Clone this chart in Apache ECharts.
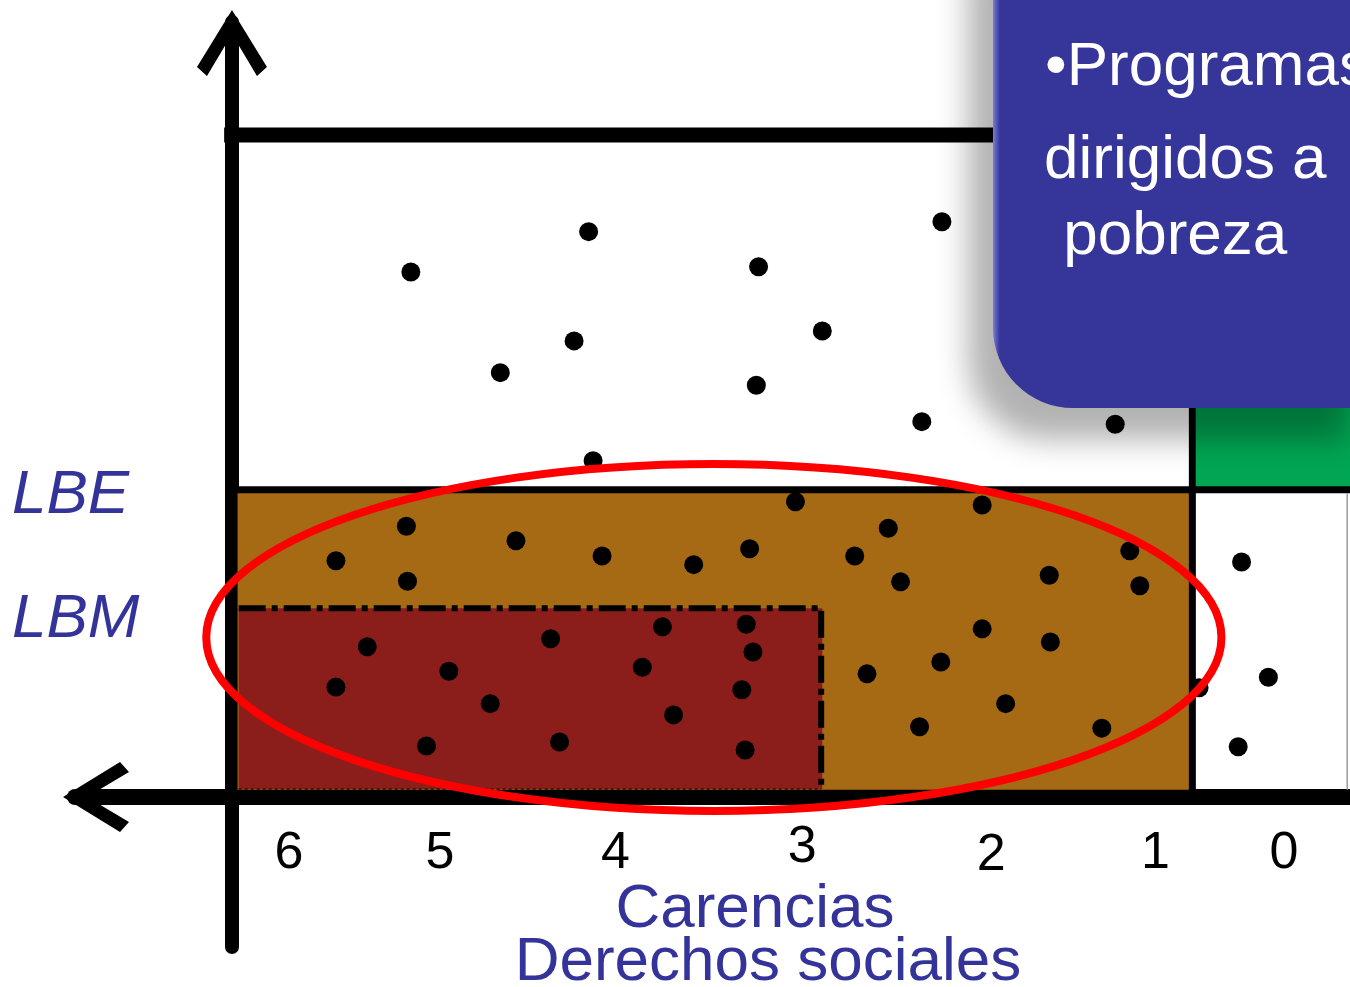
<!DOCTYPE html>
<html>
<head>
<meta charset="utf-8">
<script src="https://cdn.jsdelivr.net/npm/echarts@6/dist/echarts.min.js"></script>
<style>
html,body{margin:0;padding:0;background:#ffffff;}
#c{width:1350px;height:987px;}
</style>
</head>
<body>
<div id="c"></div>
<script>
// ---------------- DATA ----------------
// x: position along the "Carencias" axis (0 = vertical axis, 100 = right edge)
// y: income (0 = horizontal axis, 100 = top line)
const tickLabels = ['6', '5', '4', '3', '2', '1', '0'];
const tickX = [5.1, 18.6, 34.3, 51.0, 67.9, 82.6, 94.1];
const tickY = [-8.5, -8.5, -8.6, -7.6, -8.8, -8.6, -8.6];

const LBE = 46.4;          // Línea de bienestar económico
const LBM = 28.5;          // Línea de bienestar mínimo
const TOP = 100;           // upper frame line
const cutTres = 52.7;      // boundary at 3 carencias
const cutCero = 85.9;      // boundary between 1 and 0 carencias

const regionNames = ['Pobreza moderada', 'Pobreza extrema', 'No pobre ni vulnerable'];
const regionX0 = [0.5, 0.6, 86.2];
const regionX1 = [85.7, 52.8, 100];
const regionY0 = [1.1, 1.2, 46.8];
const regionY1 = [LBE, LBM, 62];

const dotsX = [16.0, 31.9, 47.1, 63.5, 24.0, 30.6, 52.8, 46.9, 61.7, 79.0, 32.3,
  9.3, 15.6, 15.7, 25.4, 33.1, 41.3, 46.3, 50.4, 55.7, 58.7, 59.8, 67.1, 73.1, 80.3, 81.2,
  56.8, 63.4, 67.1, 73.2, 61.5, 69.2, 77.8,
  12.1, 9.3, 19.4, 23.1, 17.4, 28.5, 29.3, 38.5, 36.7, 39.5, 46.0, 46.6, 45.6, 45.9,
  90.3, 92.7, 90.0, 86.5];
const dotsY = [79.3, 85.4, 80.1, 86.9, 64.1, 68.9, 70.4, 62.2, 56.7, 56.3, 50.8,
  35.7, 40.9, 32.6, 38.7, 36.4, 35.1, 37.5, 44.6, 36.4, 40.6, 32.5, 44.1, 33.5, 37.2, 31.9,
  18.6, 20.4, 25.4, 23.4, 10.6, 14.1, 10.4,
  22.7, 16.6, 19.0, 14.1, 7.7, 23.9, 8.3, 25.7, 19.6, 12.4, 26.1, 21.9, 16.2, 7.1,
  35.5, 18.1, 7.6, 16.5];

// ellipse marking the target population: center x, center y, radius x, radius y
const focoX = 43.1, focoY = 24.1, focoRX = 45.4, focoRY = 26.2;

const boxLines = ['\u2022Programas', 'dirigidos a', ' pobreza'];
const axisTitle = ['Carencias', 'Derechos sociales'];
const lineNames = ['LBE', 'LBM'];

// ---------------- CHART ----------------
const FONT = '"Liberation Sans", Arial, sans-serif';
const regionColors = ['#a66a14', '#8b1e1a', '#00a651'];
const chevron = 'path://M35,0 L70,57 L60,66 L35,24 L10,66 L0,57 Z';

const chart = echarts.init(document.getElementById('c'), null, {renderer: 'canvas'});

const regionData = regionNames.map((n, i) => ({name: n, value: [regionX0[i], regionX1[i], regionY0[i], regionY1[i]]}));
const structure = [
  [0, LBE, 100, LBE, 7],
  [cutCero, 0, cutCero, regionY1[2], 7],
  [-0.7, TOP, 70, TOP, 15],
  [99.75, regionY0[0], 99.75, LBE - 0.5, 1.5]
];

const option = {
  animation: false,
  backgroundColor: '#ffffff',
  grid: {left: 75, right: 0, top: 22, bottom: 40, containLabel: false},
  xAxis: {
    type: 'value', min: -14.04, max: 100,
    axisLine: {show: true, onZero: true, lineStyle: {color: '#000', width: 16},
      symbol: [chevron, 'none'], symbolSize: [70, 66], symbolOffset: [21, 0]},
    axisTick: {show: false}, axisLabel: {show: false}, splitLine: {show: false}
  },
  yAxis: {
    type: 'value', min: -22.66, max: 117.07,
    axisLine: {show: true, onZero: true, lineStyle: {color: '#000', width: 14},
      symbol: ['none', chevron], symbolSize: [70, 66], symbolOffset: [0, -21]},
    axisTick: {show: false}, axisLabel: {show: false}, splitLine: {show: false}
  },
  series: [
    {
      type: 'custom', name: 'regiones', z: 1, silent: true,
      data: regionData,
      renderItem: function (params, api) {
        const p0 = api.coord([api.value(0), api.value(3)]);
        const p1 = api.coord([api.value(1), api.value(2)]);
        return {type: 'rect', shape: {x: p0[0], y: p0[1], width: p1[0] - p0[0], height: p1[1] - p0[1]},
          style: {fill: regionColors[params.dataIndex]}};
      }
    },
    {
      type: 'custom', name: 'marco', z: 2, silent: true,
      data: structure,
      renderItem: function (params, api) {
        const a = api.coord([api.value(0), api.value(1)]);
        const b = api.coord([api.value(2), api.value(3)]);
        const w = api.value(4);
        return {type: 'line', shape: {x1: a[0], y1: a[1], x2: b[0], y2: b[1]},
          style: {stroke: w < 2 ? '#9a9a9a' : '#000', lineWidth: w}};
      }
    },
    {
      type: 'custom', name: 'borde', z: 2, silent: true,
      data: [[regionX0[1], LBM, cutTres, LBM, cutTres, regionY0[1]]],
      renderItem: function (params, api) {
        const a = api.coord([api.value(0), api.value(1)]);
        const b = api.coord([api.value(2), api.value(3)]);
        const c = api.coord([api.value(4), api.value(5)]);
        const d = api.coord([api.value(0), api.value(5)]);
        return {type: 'group', children: [
          {type: 'polyline', shape: {points: [a, b, c]},
            style: {fill: 'none', stroke: '#000', lineWidth: 6, lineDash: [27, 6, 6, 6]}},
          {type: 'line', shape: {x1: d[0], y1: d[1], x2: c[0], y2: c[1]},
            style: {stroke: '#3a0a08', lineWidth: 1.5, lineDash: [3, 3]}}
        ]};
      }
    },
    {
      type: 'scatter', name: 'hogares', z: 3, silent: true,
      symbol: 'circle', symbolSize: 19,
      itemStyle: {color: '#000', opacity: 1},
      data: dotsX.map((x, i) => [x, dotsY[i]])
    },
    {
      type: 'scatter', name: 'ticks', z: 3, silent: true,
      symbolSize: 1, itemStyle: {color: 'rgba(0,0,0,0)', opacity: 1},
      label: {show: true, position: 'inside', color: '#000', opacity: 1, fontSize: 52, fontFamily: FONT,
        textBorderWidth: 0, formatter: p => tickLabels[p.dataIndex]},
      data: tickX.map((x, i) => [x, tickY[i]])
    },
    {
      type: 'custom', name: 'foco', z: 4, silent: true,
      data: [[focoX, focoY, focoRX * 2, focoRY * 2]],
      renderItem: function (params, api) {
        const c = api.coord([api.value(0), api.value(1)]);
        const s = api.size([api.value(2), api.value(3)]);
        return {type: 'ellipse', shape: {cx: c[0], cy: c[1], rx: s[0] / 2, ry: s[1] / 2},
          style: {fill: 'none', stroke: '#ff0000', lineWidth: 8}};
      }
    }
  ],
  graphic: [
    {
      type: 'rect', z: 100, silent: true,
      shape: {x: 993, y: -120, width: 380, height: 528, r: [80, 0, 0, 80]},
      style: {
        fill: {type: 'linear', x: 0, y: 0, x2: 1, y2: 0, colorStops: [
          {offset: 0, color: '#7b7bd8'}, {offset: 0.018, color: '#35359a'}, {offset: 1, color: '#35359a'}]},
        shadowBlur: 30, shadowOffsetX: -25, shadowOffsetY: 32, shadowColor: 'rgba(0,0,0,0.30)'
      }
    },
    {type: 'text', z: 101, silent: true, x: 1045, y: 68,
      style: {text: boxLines[0], fill: '#fff', font: '62px ' + FONT, verticalAlign: 'middle', align: 'left'}},
    {type: 'text', z: 101, silent: true, x: 1044, y: 161,
      style: {text: boxLines[1], fill: '#fff', font: '62px ' + FONT, verticalAlign: 'middle', align: 'left'}},
    {type: 'text', z: 101, silent: true, x: 1046, y: 237,
      style: {text: boxLines[2], fill: '#fff', font: '62px ' + FONT, verticalAlign: 'middle', align: 'left'}},
    {type: 'text', z: 50, silent: true, x: 755, y: 910,
      style: {text: axisTitle[0], fill: '#333399', font: '62px ' + FONT, verticalAlign: 'middle', align: 'center'}},
    {type: 'text', z: 50, silent: true, x: 768, y: 963,
      style: {text: axisTitle[1], fill: '#333399', font: '62px ' + FONT, verticalAlign: 'middle', align: 'center'}},
    {type: 'text', z: 50, silent: true, x: 12, y: 496,
      style: {text: lineNames[0], fill: '#333399', font: 'italic 62px ' + FONT, verticalAlign: 'middle', align: 'left'}},
    {type: 'text', z: 50, silent: true, x: 12, y: 620,
      style: {text: lineNames[1], fill: '#333399', font: 'italic 62px ' + FONT, verticalAlign: 'middle', align: 'left'}}
  ]
};

chart.setOption(option);
</script>
</body>
</html>
